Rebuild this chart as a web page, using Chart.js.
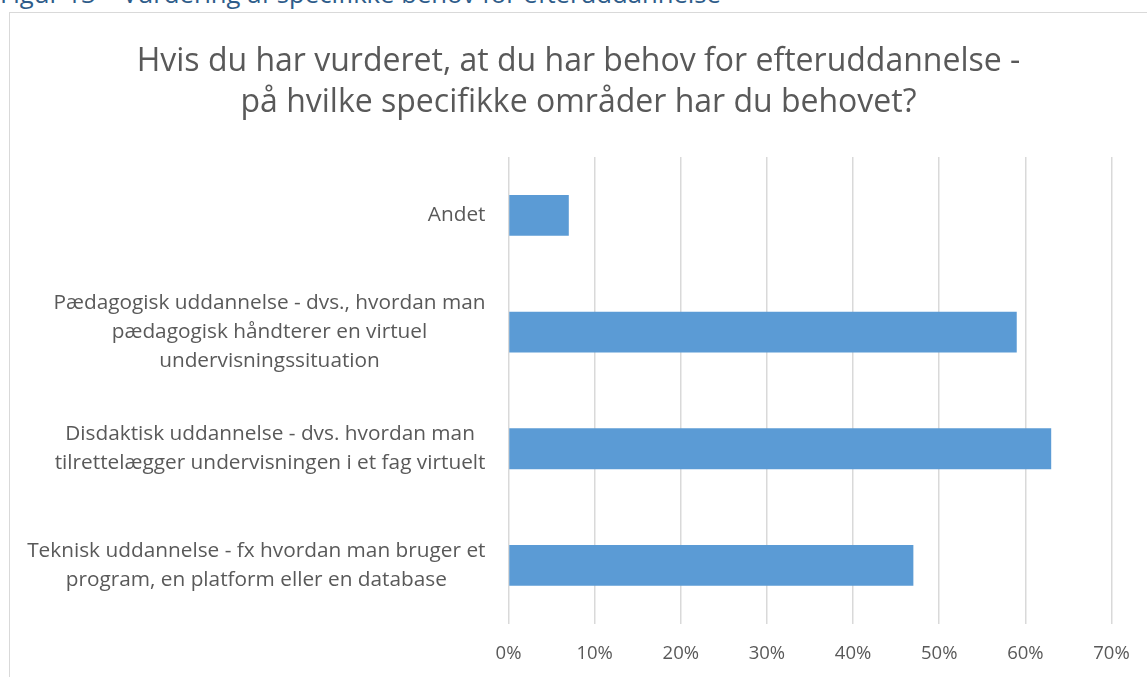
<!DOCTYPE html>
<html>
<head>
<meta charset="utf-8">
<script src="https://cdn.jsdelivr.net/npm/chart.js@4/dist/chart.umd.min.js"></script>
<style>
  body { margin: 0; background: #fff; width: 1147px; height: 677px; overflow: hidden; position: relative; font-family: "Open Sans", sans-serif; }
  #caption { position: absolute; left: 0; top: -19px; font-size: 25.7px; line-height: 1; color: #2e5c8a; white-space: nowrap; }
  #frame { position: absolute; left: 9px; top: 12px; width: 1160px; height: 700px; border-left: 1px solid #d9d9d9; border-top: 1px solid #d9d9d9; }
  #wrap { position: absolute; left: 10px; top: 13px; width: 1137px; height: 664px; }
</style>
</head>
<body>
<div id="caption">Figur 13 – Vurdering af specifikke behov for efteruddannelse</div>
<div id="frame"></div>
<div id="wrap"><canvas id="grafico"></canvas></div>
<script>
const titel = ['Hvis du har vurderet, at du har behov for efteruddannelse -', 'på hvilke specifikke områder har du behovet?'];

const kategorier = [
  ['Andet'],
  ['Pædagogisk uddannelse - dvs., hvordan man', 'pædagogisk håndterer en virtuel', 'undervisningssituation'],
  ['Disdaktisk uddannelse - dvs. hvordan man', 'tilrettelægger undervisningen i et fag virtuelt'],
  ['Teknisk uddannelse - fx hvordan man bruger et', 'program, en platform eller en database']
];

const andele = [7, 59, 63, 47];

const akseTicks = [0, 10, 20, 30, 40, 50, 60, 70];

const tekstFarve = '#595959';
const labelFont = '20.8px "Open Sans"';

// Kategori-tekster tegnes selv, så hver blok centreres om sin egen bredeste linje
const kategoriTekst = {
  id: 'kategoriTekst',
  afterDraw(chart) {
    const ctx = chart.ctx;
    const y = chart.scales.y;
    const hoejre = chart.chartArea.left - 23;
    const linjeH = 29;
    ctx.save();
    ctx.font = labelFont;
    ctx.fillStyle = tekstFarve;
    ctx.textAlign = 'center';
    ctx.textBaseline = 'middle';
    kategorier.forEach((linjer, i) => {
      const maxB = Math.max(...linjer.map(l => ctx.measureText(l).width));
      const cx = hoejre - maxB / 2;
      const cy = y.getPixelForValue(i);
      linjer.forEach((l, j) => {
        ctx.fillText(l, cx, cy + (j - (linjer.length - 1) / 2) * linjeH);
      });
    });
    ctx.restore();
  }
};

const ctx = document.getElementById('grafico').getContext('2d');
new Chart(ctx, {
  type: 'bar',
  data: {
    labels: kategorier,
    datasets: [{
      data: andele,
      backgroundColor: '#5b9bd5',
      borderWidth: 0,
      categoryPercentage: 1,
      barPercentage: 0.35
    }]
  },
  options: {
    indexAxis: 'y',
    responsive: true,
    maintainAspectRatio: false,
    animation: false,
    layout: { padding: { left: 0, right: 0, top: 0, bottom: -7 } },
    plugins: {
      legend: { display: false },
      tooltip: { enabled: false },
      title: {
        display: true,
        text: titel,
        color: tekstFarve,
        font: { family: '"Open Sans"', size: 32, weight: 'normal', lineHeight: 41 / 32 },
        padding: { top: 28.5, bottom: 33.5 }
      }
    },
    scales: {
      x: {
        min: 0,
        max: 70,
        afterBuildTicks(axis) { axis.ticks = akseTicks.map(v => ({ value: v })); },
        afterFit(axis) { axis.paddingLeft = 0; axis.paddingRight = 35.5; },
        grid: { color: '#d9d9d9', lineWidth: 1.5, drawTicks: false },
        border: { display: false },
        ticks: {
          color: tekstFarve,
          font: { family: '"Open Sans"', size: 18.5 },
          padding: 19,
          callback: v => v + '%'
        }
      },
      y: {
        grid: { display: false },
        border: { display: false },
        ticks: { display: false },
        afterFit(axis) { axis.width = 498.5; }
      }
    }
  },
  plugins: [kategoriTekst]
});
</script>
</body>
</html>
